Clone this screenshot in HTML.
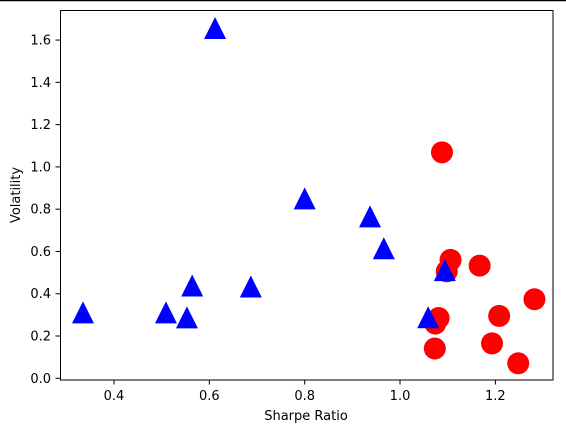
<!DOCTYPE html>
<html><head><meta charset="utf-8"><style>
body{margin:0;background:#fff}
svg{display:block;font-family:"DejaVu Sans","Liberation Sans",sans-serif}
</style></head><body>
<svg id="chart" width="566" height="432">
<line x1="0" y1="0.5" x2="566" y2="0.5" stroke="#000" stroke-width="1.5"/>
<g id="marks"></g>
<rect x="60.5" y="10.5" width="492.5" height="369.5" fill="none" stroke="#000" stroke-width="1"/>
<g id="axes"></g>
<text x="306" y="420" font-size="13" text-anchor="middle">Sharpe Ratio</text>
<text x="0" y="0" font-size="13" text-anchor="middle" transform="translate(20,195) rotate(-90)">Volatility</text>
</svg>
<script>
const blueX=[0.335,0.509,0.553,0.564,0.612,0.687,0.800,0.937,0.966,1.059,1.094];
const blueY=[0.312,0.312,0.288,0.439,1.657,0.434,0.851,0.766,0.615,0.289,0.512];
const redX=[1.088,1.106,1.098,1.167,1.081,1.074,1.073,1.208,1.193,1.248,1.282];
const redY=[1.069,0.560,0.506,0.533,0.285,0.259,0.141,0.295,0.165,0.071,0.374];
const xTicks=[0.4,0.6,0.8,1.0,1.2];
const yTicks=[0.0,0.2,0.4,0.6,0.8,1.0,1.2,1.4,1.6];
const NS="http://www.w3.org/2000/svg";
const sx=v=>114+(v-0.4)*476.7;
const sy=v=>378.3-v*211.4;
const marks=document.getElementById('marks'),axes=document.getElementById('axes');
function mk(tag,attrs,parent){const e=document.createElementNS(NS,tag);for(const k in attrs)e.setAttribute(k,attrs[k]);parent.appendChild(e);return e;}
redX.forEach((x,i)=>{
  const c=mk('circle',{cx:sx(x),cy:sy(redY[i]),r:11,fill:'#ff0000'},marks);
  
  
});
blueX.forEach((x,i)=>{
  const cx=sx(x),cy=sy(blueY[i]),r=11;
  const p=mk('polygon',{points:`${cx},${cy-r} ${cx-r},${cy+r} ${cx+r},${cy+r}`,fill:'#0000ff'},marks);
  
  
});
xTicks.forEach(t=>{
  const x=sx(t);
  const l=mk('line',{x1:x,y1:380,x2:x,y2:384.5,stroke:'#000'},axes);
  
  
  const tx=mk('text',{x:x,y:400,'font-size':13,'text-anchor':'middle'},axes);
  tx.textContent=t.toFixed(1);
  
  
});
yTicks.forEach(t=>{
  const y=sy(t);
  const l=mk('line',{x1:55.5,y1:y,x2:60,y2:y,stroke:'#000'},axes);
  
  
  const tx=mk('text',{x:51,y:y+4.5,'font-size':13,'text-anchor':'end'},axes);
  tx.textContent=t.toFixed(1);
  
  
});
</script>
</body></html>
